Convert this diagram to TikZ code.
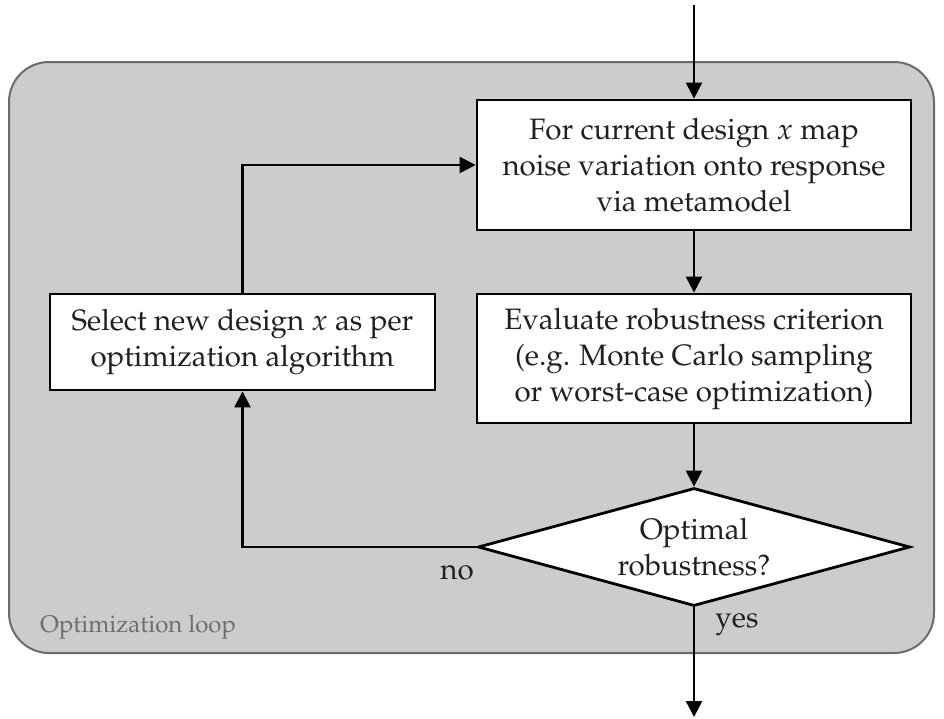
\documentclass[tikz,border=0pt]{standalone}
\usepackage[T1]{fontenc}
\usepackage{mathpazo}
\usetikzlibrary{shapes.geometric,arrows.meta}
\definecolor{loopfill}{HTML}{CBCCCE}
\definecolor{loopdraw}{HTML}{6B6B6B}
\definecolor{txt}{HTML}{231F20}
\definecolor{looptxt}{HTML}{6E6E6E}
\tikzset{
  procbox/.style={draw=black, fill=white, line width=2.8pt, align=center,
    text=txt, font=\fontsize{29.5}{36}\selectfont, inner sep=0pt},
  decbox/.style={draw=black, fill=white, line width=2.8pt, align=center,
    text=txt, font=\fontsize{29.5}{36}\selectfont, shape=diamond, aspect=3.66,
    inner sep=0pt, minimum width=432pt, minimum height=118pt},
  conn/.style={draw=black, line width=2.4pt},
  arr/.style={conn, -{Triangle[length=16pt,width=16pt]}},
  lbl/.style={text=txt, font=\fontsize{29.5}{36}\selectfont, inner sep=0pt},
}
\begin{document}
\begin{tikzpicture}[x=1pt,y=-1pt]
\useasboundingbox (0,0) rectangle (944,718);
\draw[fill=loopfill, draw=loopdraw, line width=2pt, rounded corners=40pt]
  (9,62) rectangle (934,653);
\node[procbox, minimum width=434pt, minimum height=130pt] (map) at (694,165)
  {For current design $x$ map\\noise variation onto response\\via metamodel};
\node[procbox, minimum width=434pt, minimum height=129pt] (eval) at (694,358.5)
  {Evaluate robustness criterion\\(e.g. Monte Carlo sampling\\or worst-case optimization)};
\node[procbox, minimum width=385pt, minimum height=96pt] (sel) at (242.5,342)
  {Select new design $x$ as per\\optimization algorithm};
\node[decbox] (dec) at (694,547) {Optimal\\robustness?};
\coordinate (in) at (694,5);
\coordinate (out) at (694,717);
\node[lbl] (no) at (457,573) {no};
\node[lbl] (yes) at (737,625) {yes};
\node[anchor=west, text=looptxt, font=\fontsize{24}{28}\selectfont, inner sep=0pt] (looplbl) at (40,627) {Optimization loop};
\draw[arr] (in) -- (map.north);
\draw[arr] (map.south) -- (eval.north);
\draw[arr] (eval.south) -- (dec.north);
\draw[arr] (dec.south) -- (out);
\draw[arr] (dec.west) -| (sel.south);
\draw[arr] (sel.north) |- (map.west);
\end{tikzpicture}
\end{document}
